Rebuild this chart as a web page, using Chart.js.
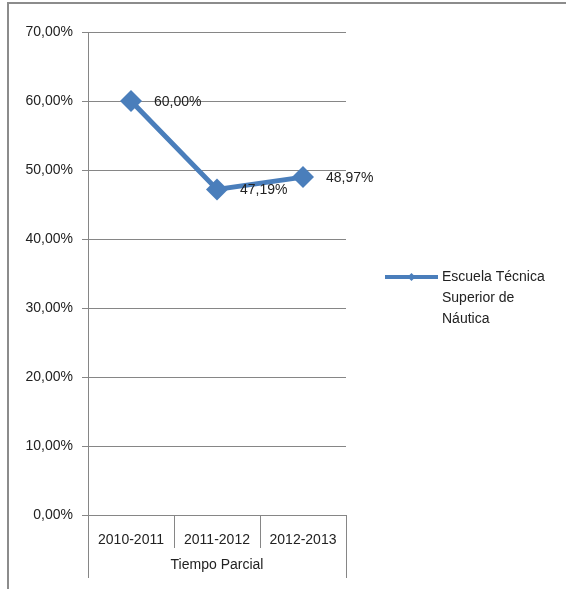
<!DOCTYPE html>
<html>
<head>
<meta charset="utf-8">
<script src="https://cdn.jsdelivr.net/npm/chart.js@4.4.1/dist/chart.umd.min.js"></script>
<style>
  html, body { margin: 0; padding: 0; background: #fff; }
  #wrap { position: relative; width: 566px; height: 589px; overflow: hidden; }
  #frame { position: absolute; left: 7px; top: 2px; width: 600px; height: 640px; border: 2px solid #8c8c8c; box-sizing: border-box; }
  #chart { position: absolute; left: 0; top: 0; }
</style>
</head>
<body>
<div id="wrap">
  <div id="frame"></div>
  <canvas id="chart" width="566" height="589"></canvas>
</div>
<script>
  const categories = ['2010-2011', '2011-2012', '2012-2013'];
  const seriesName = 'Escuela Técnica Superior de Náutica';
  const seriesValues = [60.00, 47.19, 48.97];
  const axisTitle = 'Tiempo Parcial';
  const yMin = 0, yMax = 70, yStep = 10;

  const BLUE = '#4a7ebb';
  const GRID = '#868686';
  const FAMILY = '"Liberation Sans", Arial, sans-serif';
  const FONT = '14px ' + FAMILY;
  const fmt = v => v.toFixed(2).replace('.', ',') + '%';

  // Data labels to the right of each point
  const pointLabels = {
    id: 'pointLabels',
    afterDatasetsDraw(chart) {
      const ctx = chart.ctx;
      const meta = chart.getDatasetMeta(0);
      ctx.save();
      ctx.font = FONT;
      ctx.fillStyle = '#222';
      ctx.textAlign = 'left';
      ctx.textBaseline = 'middle';
      meta.data.forEach((pt, i) => {
        ctx.fillText(fmt(seriesValues[i]), pt.x + 23, pt.y + 1);
      });
      ctx.restore();
    }
  };

  // Category separators below the x axis
  const catLines = {
    id: 'catLines',
    afterDraw(chart) {
      const x = chart.scales.x;
      const ctx = chart.ctx;
      ctx.save();
      ctx.strokeStyle = GRID;
      ctx.lineWidth = 1;
      for (let i = 0; i <= categories.length; i++) {
        const px = Math.round(x.getPixelForValue(i - 0.5)) + 0.5;
        const outer = i === 0 || i === categories.length;
        ctx.beginPath();
        ctx.moveTo(px, x.top);
        ctx.lineTo(px, x.top + (outer ? 63 : 33));
        ctx.stroke();
      }
      ctx.restore();
    }
  };

  // Legend on the right with wrapped text
  const sideLegend = {
    id: 'sideLegend',
    afterDraw(chart) {
      const ctx = chart.ctx;
      const x0 = 385, x1 = 438, y = 277;
      ctx.save();
      ctx.strokeStyle = BLUE;
      ctx.lineWidth = 4;
      ctx.beginPath();
      ctx.moveTo(x0, y);
      ctx.lineTo(x1, y);
      ctx.stroke();
      ctx.fillStyle = BLUE;
      ctx.beginPath();
      const mx = (x0 + x1) / 2, r = 4;
      ctx.moveTo(mx, y - r); ctx.lineTo(mx + r, y); ctx.lineTo(mx, y + r); ctx.lineTo(mx - r, y);
      ctx.closePath();
      ctx.fill();

      ctx.font = FONT;
      ctx.fillStyle = '#222';
      ctx.textAlign = 'left';
      ctx.textBaseline = 'middle';
      const words = seriesName.split(' ');
      const lines = [];
      let cur = '';
      words.forEach(w => {
        const t = cur ? cur + ' ' + w : w;
        if (ctx.measureText(t).width > 115 && cur) { lines.push(cur); cur = w; }
        else cur = t;
      });
      if (cur) lines.push(cur);
      lines.forEach((l, i) => ctx.fillText(l, 442, y + i * 21));
      ctx.restore();
    }
  };

  new Chart(document.getElementById('chart'), {
    type: 'line',
    data: {
      labels: categories,
      datasets: [{
        label: seriesName,
        data: seriesValues,
        borderColor: BLUE,
        backgroundColor: BLUE,
        borderWidth: 5,
        pointStyle: 'rectRot',
        pointRadius: 11,
        pointHoverRadius: 11,
        pointBorderWidth: 0,
        tension: 0,
        fill: false
      }]
    },
    options: {
      responsive: false,
      animation: false,
      devicePixelRatio: 1,
      layout: { padding: { left: 0, top: 32, right: 220, bottom: 15 } },
      plugins: { legend: { display: false }, tooltip: { enabled: false } },
      scales: {
        x: {
          offset: true,
          grid: { display: false },
          border: { display: true, color: GRID },
          ticks: { color: '#222', font: { family: FAMILY, size: 14 }, padding: 9, maxRotation: 0 },
          title: { display: true, text: axisTitle, color: '#222', padding: 0, font: { family: FAMILY, size: 14 } },
          afterFit: s => { s.height = 59; }
        },
        y: {
          min: yMin,
          max: yMax,
          grid: { color: GRID, tickLength: 6 },
          border: { display: true, color: GRID },
          ticks: { stepSize: yStep, padding: 9, color: '#222', font: { family: FAMILY, size: 14 }, callback: v => fmt(v) },
          afterFit: s => { s.width = 88; }
        }
      }
    },
    plugins: [pointLabels, catLines, sideLegend]
  });
</script>
</body>
</html>
